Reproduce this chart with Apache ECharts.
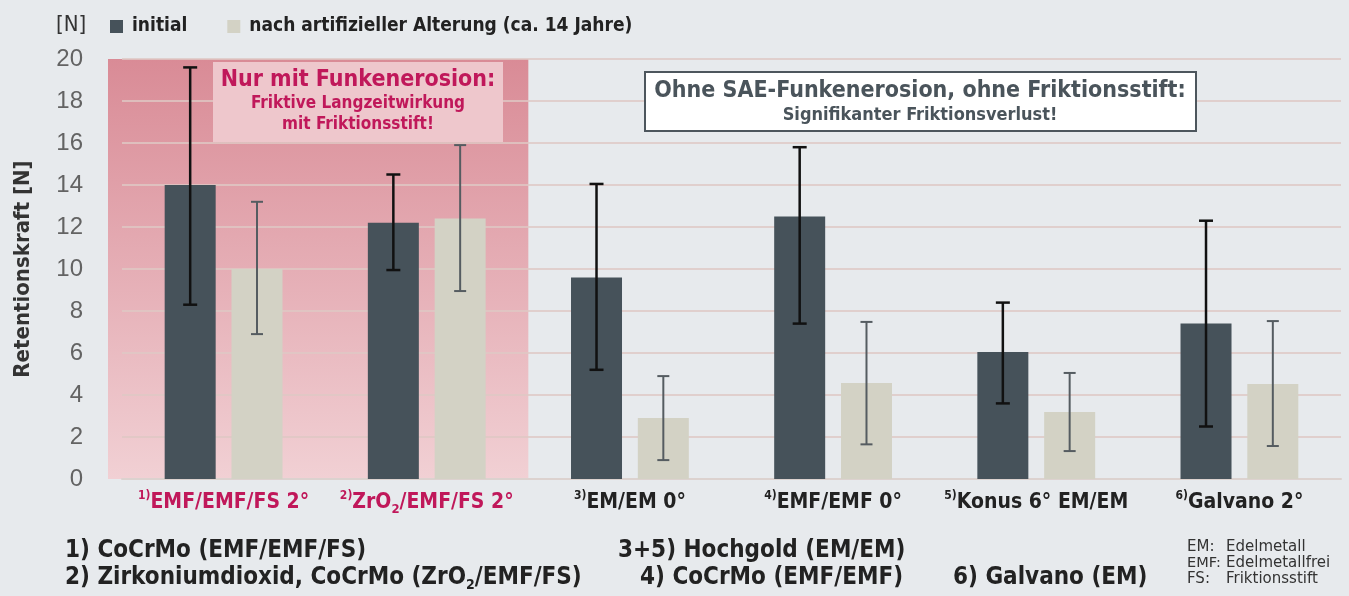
<!DOCTYPE html>
<html><head><meta charset="utf-8">
<script src="https://cdn.jsdelivr.net/npm/echarts@6/dist/echarts.min.js"></script>
<style>html,body{margin:0;padding:0;background:#e7eaed}#c{width:1349px;height:596px}</style>
</head><body><div id="c"></div>
<script>
// ---- data ----
var categories = ['EMF/EMF/FS 2°', 'ZrO2/EMF/FS 2°', 'EM/EM 0°', 'EMF/EMF 0°', 'Konus 6° EM/EM', 'Galvano 2°'];
var catNumbers = ['1)', '2)', '3)', '4)', '5)', '6)'];
var seriesNames = ['initial', 'nach artifizieller Alterung (ca. 14 Jahre)'];
var initialValues = [14.0, 12.2, 9.6, 12.5, 6.05, 7.4];
var initialLow = [8.3, 9.95, 5.2, 7.4, 3.6, 2.5];
var initialHigh = [19.6, 14.5, 14.05, 15.8, 8.4, 12.3];
var agedValues = [10.0, 12.4, 2.9, 4.57, 3.19, 4.52];
var agedLow = [6.9, 8.95, 0.9, 1.65, 1.33, 1.57];
var agedHigh = [13.2, 15.9, 4.9, 7.48, 5.05, 7.52];
var yTicks = [0, 2, 4, 6, 8, 10, 12, 14, 16, 18, 20];

var FONT = '"DejaVu Sans Condensed", "Liberation Sans Narrow", sans-serif';
var RED = '#c0185a';
var DARK = '#46525a', LIGHT = '#d3d2c5';
var BAR_W = 51, GAP = 0.31;
var OFF = BAR_W * (1 + GAP) / 2;

function errData(low, high) {
  return low.map(function (l, i) { return [i, l, high[i]]; });
}
function errSeries(name, low, high, sign, color, lw, cap) {
  return {
    type: 'custom', name: name + ' err', z: 5, silent: true,
    data: errData(low, high),
    renderItem: function (params, api) {
      var x = api.coord([api.value(0), 0])[0] + sign * OFF;
      var y1 = api.coord([api.value(0), api.value(1)])[1];
      var y2 = api.coord([api.value(0), api.value(2)])[1];
      var st = { stroke: color, lineWidth: lw };
      return { type: 'group', children: [
        { type: 'line', shape: { x1: x, y1: y1, x2: x, y2: y2 }, style: st },
        { type: 'line', shape: { x1: x - cap, y1: y1, x2: x + cap, y2: y1 }, style: st },
        { type: 'line', shape: { x1: x - cap, y1: y2, x2: x + cap, y2: y2 }, style: st }
      ]};
    }
  };
}

var chart = echarts.init(document.getElementById('c'));
var rich = {};
[['', '#222'], ['R', RED]].forEach(function (p) {
  rich['m' + p[0]] = { fontFamily: FONT, fontWeight: 'bold', fontSize: 21, color: p[1], lineHeight: 26 };
  rich['s' + p[0]] = { fontFamily: FONT, fontWeight: 'bold', fontSize: 12, color: p[1], verticalAlign: 'top', lineHeight: 14 };
  rich['u' + p[0]] = { fontFamily: FONT, fontWeight: 'bold', fontSize: 13, color: p[1], verticalAlign: 'bottom', lineHeight: 8 };
});

var option = {
  backgroundColor: '#e7eaed',
  animation: false,
  grid: { left: 122, right: 8, top: 59, bottom: 117, containLabel: false, outerBoundsMode: 'none' },
  legend: {
    left: 110, top: 17, padding: 0, itemWidth: 13, itemHeight: 13, itemGap: 40,
    icon: 'rect',
    data: seriesNames,
    textStyle: { fontFamily: FONT, fontWeight: 'bold', fontSize: 19, color: '#222', padding: [0, 0, 0, 4] }
  },
  xAxis: {
    type: 'category', data: categories,
    axisTick: { show: false },
    axisLine: { lineStyle: { color: '#dcd2cf', width: 2 } },
    axisLabel: {
      margin: 11, interval: 0,
      formatter: function (v, i) {
        var r = i < 2 ? 'R' : '';
        var main = v.replace('ZrO2', 'ZrO}{u' + r + '|2}{m' + r + '|');
        return '{s' + r + '|' + catNumbers[i] + '}{m' + r + '|' + main + '}';
      },
      rich: rich
    }
  },
  yAxis: {
    type: 'value', min: yTicks[0], max: yTicks[yTicks.length - 1], interval: yTicks[1] - yTicks[0],
    name: 'Retentionskraft [N]', nameLocation: 'middle', nameRotate: 90, nameGap: 88,
    nameTextStyle: { fontFamily: FONT, fontWeight: 'bold', fontSize: 22, color: '#333' },
    axisLine: { show: false }, axisTick: { show: false },
    axisLabel: { margin: 39, fontFamily: '"Liberation Sans", Arial, sans-serif', fontSize: 24, color: '#636363' },
    splitLine: { lineStyle: { color: 'rgba(222,200,196,0.8)', width: 2 } }
  },
  series: [
    { type: 'bar', name: seriesNames[0], data: initialValues, barWidth: BAR_W, barGap: (GAP * 100) + '%',
      itemStyle: { color: DARK }, z: 3 },
    { type: 'bar', name: seriesNames[1], data: agedValues, barWidth: BAR_W,
      itemStyle: { color: LIGHT }, z: 3 },
    errSeries('a', initialLow, initialHigh, -1, '#111', 2.5, 7),
    errSeries('b', agedLow, agedHigh, 1, '#555c61', 2, 6)
  ]
};
chart.setOption(option);

// background region and annotations
var p0 = chart.convertToPixel({ xAxisIndex: 0 }, categories[0]);
var p1 = chart.convertToPixel({ xAxisIndex: 0 }, categories[1]);
var band = p1 - p0;
var yTop = chart.convertToPixel({ yAxisIndex: 0 }, 20);
var yBot = chart.convertToPixel({ yAxisIndex: 0 }, 0);
var rx0 = p0 - band / 2 - 14, rx1 = p1 + band / 2;

function txt(x, y, text, size, color, weight, align, family) {
  return { type: 'text', z: 100, style: { text: text, x: x, y: y, fontFamily: family || FONT, fontSize: size, fill: color,
    fontWeight: weight || 'bold', align: align || 'left', verticalAlign: 'middle' } };
}
var PLAIN = '"DejaVu Sans", sans-serif';

var subRich = {
  b: { fontFamily: FONT, fontWeight: 'bold', fontSize: 24, fill: '#222', lineHeight: 28 },
  u: { fontFamily: FONT, fontWeight: 'bold', fontSize: 14, fill: '#222', verticalAlign: 'bottom', lineHeight: 10 }
};

chart.setOption({
  graphic: [
    { type: 'rect', z: -1, silent: true,
      shape: { x: rx0, y: yTop, width: rx1 - rx0, height: yBot - yTop },
      style: { fill: new echarts.graphic.LinearGradient(0, 0, 0, 1, [
        { offset: 0, color: '#d98b96' }, { offset: 1, color: '#f1d0d4' }]) } },
    // pink annotation
    { type: 'rect', z: 90, shape: { x: 213, y: 62, width: 290, height: 80 }, style: { fill: '#eec7cc' } },
    txt(358, 80, 'Nur mit Funkenerosion:', 23, RED, 'bold', 'center'),
    txt(358, 104, 'Friktive Langzeitwirkung', 17, RED, 'bold', 'center'),
    txt(358, 125, 'mit Friktionsstift!', 17, RED, 'bold', 'center'),
    // white annotation
    { type: 'rect', z: 90, shape: { x: 645, y: 72, width: 551, height: 59 },
      style: { fill: '#ffffff', stroke: '#4d565d', lineWidth: 2 } },
    txt(920, 91, 'Ohne SAE-Funkenerosion, ohne Friktionsstift:', 23, '#4a545b', 'bold', 'center'),
    txt(920, 115, 'Signifikanter Friktionsverlust!', 18, '#4a545b', 'bold', 'center'),
    // unit
    txt(56, 25, '[N]', 22, '#333', 'normal', 'left'),
    // bottom notes
    txt(65, 551, '1) CoCrMo (EMF/EMF/FS)', 24, '#222'),
    { type: 'text', z: 100, style: { x: 65, y: 578, verticalAlign: 'middle', rich: subRich,
      text: '{b|2) Zirkoniumdioxid, CoCrMo (ZrO}{u|2}{b|/EMF/FS)}' } },
    txt(618, 551, '3+5) Hochgold (EM/EM)', 24, '#222'),
    txt(640, 578, '4) CoCrMo (EMF/EMF)', 24, '#222'),
    txt(953, 578, '6) Galvano (EM)', 24, '#222'),
    txt(1187, 547, 'EM:', 15, '#333', 'normal', 'left', PLAIN),
    txt(1226, 547, 'Edelmetall', 15, '#333', 'normal', 'left', PLAIN),
    txt(1187, 563, 'EMF:', 14.5, '#333', 'normal', 'left', PLAIN),
    txt(1226, 563, 'Edelmetallfrei', 15, '#333', 'normal', 'left', PLAIN),
    txt(1187, 579, 'FS:', 15, '#333', 'normal', 'left', PLAIN),
    txt(1226, 579, 'Friktionsstift', 15, '#333', 'normal', 'left', PLAIN)
  ]
});
</script></body></html>
